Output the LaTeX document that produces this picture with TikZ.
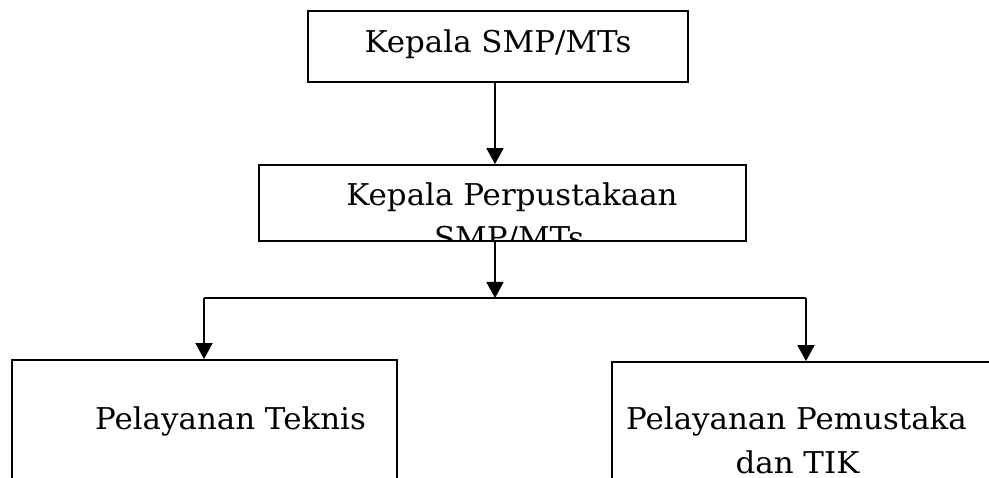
\documentclass[tikz,border=0pt]{standalone}
\usepackage{fontspec}
\setmainfont{DejaVu Serif}[FakeStretch=1.03]
\usetikzlibrary{arrows.meta}
\tikzset{
  box/.style={draw=black, line width=1.8pt, inner sep=0pt, fill=none},
  lbl/.style={anchor=base, inner sep=0pt, font=\fontsize{30}{34}\selectfont},
  conn/.style={draw=black, line width=1.8pt},
  arr/.style={conn, -{Triangle[width=17pt,length=16pt]}}
}
\begin{document}
\begin{tikzpicture}[x=1pt,y=-1pt]
\useasboundingbox (0,0) rectangle (989,478);
\fill[white] (0,0) rectangle (989,478);
% boxes
\node[box, minimum width=380, minimum height=71] (top) at (498,46.5) {};
\node[box, minimum width=487, minimum height=76] (mid) at (502.5,203) {};
\node[box, minimum width=385, minimum height=160] (left) at (204.5,440) {};
\node[box, minimum width=418, minimum height=158] (right) at (821,441) {};
% texts
\node[lbl] (ttop) at (498,53) {Kepala SMP/MTs};
\node[lbl] (tmid1) at (512,206) {Kepala Perpustakaan};
\begin{scope}
  \clip (259,165) rectangle (746,240.2);
  \node[lbl] (tmid2) at (509,249) {SMP/MTs};
\end{scope}
\node[lbl] (tleft) at (230.5,430) {Pelayanan Teknis};
\node[lbl] (tright1) at (796.5,430) {Pelayanan Pemustaka};
\node[lbl] (tright2) at (797.5,474) {dan TIK};
% connectors
\coordinate (j) at (495,298);
\coordinate (jl) at (204,298);
\coordinate (jr) at (806,298);
\draw[arr] (top.south -| j) -- (mid.north -| j);
\draw[arr] (mid.south -| j) -- (j);
\draw[conn] (jl) -- (jr);
\draw[arr] (jl) -- (left.north -| jl);
\draw[arr] (jr) -- (right.north -| jr);
\end{tikzpicture}
\end{document}
